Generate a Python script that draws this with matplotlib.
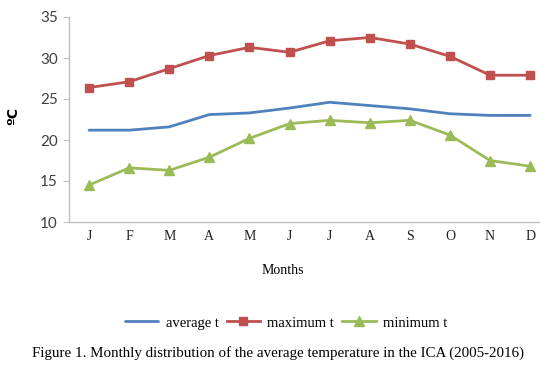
import matplotlib
matplotlib.use("Agg")
import matplotlib.pyplot as plt
from matplotlib.ticker import MultipleLocator

months = ["J", "F", "M", "A", "M", "J", "J", "A", "S", "O", "N", "D"]
average_t = [21.2, 21.2, 21.6, 23.1, 23.3, 23.9, 24.6, 24.2, 23.8, 23.2, 23.0, 23.0]
maximum_t = [26.4, 27.1, 28.7, 30.3, 31.3, 30.7, 32.1, 32.5, 31.7, 30.2, 27.9, 27.9]
minimum_t = [14.5, 16.6, 16.3, 17.9, 20.2, 22.0, 22.4, 22.1, 22.4, 20.6, 17.5, 16.8]
labels = ["average t", "maximum t", "minimum t"]
caption = "Figure 1. Monthly distribution of the average temperature in the ICA (2005-2016)"

W, H = 555, 370
fig = plt.figure(figsize=(W / 100, H / 100), dpi=100)
ax = fig.add_axes([69 / W, 1 - 222 / H, (539 - 69) / W, (222 - 17) / H])

x = list(range(len(months)))
blue, red, green = "#4F81BD", "#C0504D", "#9BBB59"
l1, = ax.plot(x, average_t, color=blue, lw=2.0, solid_capstyle="round")
l2, = ax.plot(x, maximum_t, color=red, lw=2.0, marker="s", markersize=6)
l3, = ax.plot(x, minimum_t, color=green, lw=2.0, marker="^", markersize=7)

ax.set_xlim(-0.5, 11.22)
ax.set_ylim(10, 35)
ax.yaxis.set_major_locator(MultipleLocator(5))
ax.set_xticks(x)
ax.set_xticklabels(months, family="Liberation Serif", fontsize=10, color="#222222")
for t in ax.get_yticklabels():
    t.set_family("Lato")
    t.set_fontsize(11)
    t.set_color("#404040")
ax.tick_params(axis="x", length=0, pad=6)
ax.tick_params(axis="y", length=4.5, width=0.8, color="#BFBFBF", pad=3.5)
for s in ["top", "right"]:
    ax.spines[s].set_visible(False)
for s in ["left", "bottom"]:
    ax.spines[s].set_color("#BFBFBF")
    ax.spines[s].set_linewidth(1.0)

fig.text(13 / W, 1 - 116 / H, "ºC", rotation=90, ha="center", va="center",
         family="DejaVu Sans", fontweight="bold", fontsize=10)
fig.text(283 / W, 1 - 270 / H, "Months", ha="center", va="center",
         family="Liberation Serif", fontsize=10)
fig.legend([l1, l2, l3], labels, loc="center", bbox_to_anchor=(286 / W, 1 - 323 / H),
           ncol=3, frameon=False, prop={"family": "Liberation Serif", "size": 10.5},
           handlelength=2.3, columnspacing=0.55, handletextpad=0.5)
fig.text(278 / W, 1 - 353 / H, caption, ha="center", va="center",
         family="Liberation Serif", fontsize=10.8)

fig.savefig("out.png", dpi=100)
